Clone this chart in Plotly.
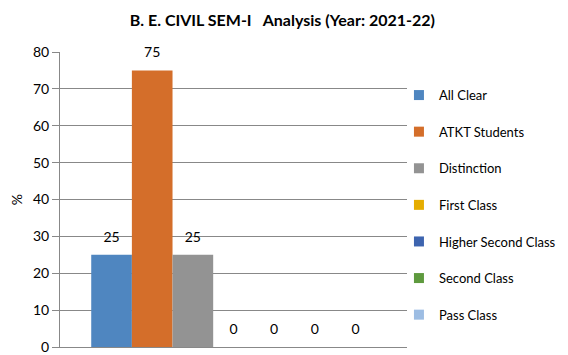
import plotly.graph_objects as go

category = ["SEM-I"]
series_names = ["All Clear", "ATKT Students", "Distinction", "First Class",
                "Higher Second Class", "Second Class", "Pass Class"]
series_values = [25, 75, 25, 0, 0, 0, 0]
series_colors = ["#4F86C0", "#D46E2A", "#939393", "#E5AD00",
                 "#3D64AF", "#5E9A3E", "#9DBDE3"]
y_ticks = [0, 10, 20, 30, 40, 50, 60, 70, 80]

FONT = "Lato, 'Open Sans', sans-serif"

fig = go.Figure()
for name, val, col in zip(series_names, series_values, series_colors):
    fig.add_trace(go.Bar(
        x=category, y=[val], name=name, marker_color=col,
        marker_line_width=0, showlegend=False, hoverinfo="skip",
        alignmentgroup="bars", offsetgroup=name,
    ))
# value labels, grouped like the bars
for name, val in zip(series_names, series_values):
    fig.add_trace(go.Scatter(
        x=category, y=[val], mode="markers+text", text=[str(val)],
        textposition="top center",
        textfont=dict(size=14, color="#000000", family=FONT),
        marker=dict(size=14, color="rgba(0,0,0,0)"),
        cliponaxis=False, showlegend=False, hoverinfo="skip",
        alignmentgroup="labels", offsetgroup=name,
    ))
# legend entries with small square swatches (separate x axis, not grouped)
for name, col in zip(series_names, series_colors):
    fig.add_trace(go.Scatter(
        x=[None], y=[None], mode="markers", name=name,
        marker=dict(symbol="square", size=10, color=col),
        legendgroup=name, xaxis="x2", hoverinfo="skip",
    ))

fig.update_layout(
    width=560, height=347,
    margin=dict(l=52, r=160, t=44, b=8),
    paper_bgcolor="white", plot_bgcolor="white",
    barmode="group", bargap=0.18, bargroupgap=0,
    scattermode="group", scattergap=0.18,
    font=dict(family=FONT, size=14, color="#000000"),
    title=dict(text="<b>B. E. CIVIL SEM-I   Analysis (Year: 2021-22)</b>",
               x=0.49, xref="container", y=0.965, yref="container",
               xanchor="center", yanchor="middle",
               font=dict(size=16, family=FONT)),
    showlegend=True,
    legend=dict(x=0.974, xanchor="left", y=0.481, yanchor="middle",
                bgcolor="rgba(0,0,0,0)",
                font=dict(size=13, family=FONT), tracegroupgap=16.7,
                itemwidth=30),
    xaxis2=dict(overlaying="x", visible=False, showgrid=False,
                zeroline=False),
)
fig.update_xaxes(showticklabels=False, showline=True, linecolor="#888888",
                 linewidth=1, showgrid=False, ticks="", automargin=False,
                 selector=dict(anchor="y"))
fig.update_layout(xaxis=dict(showticklabels=False, showline=True,
                             linecolor="#888888", linewidth=1,
                             showgrid=False, ticks="", automargin=False))
fig.update_yaxes(range=[0, 80], tickvals=y_ticks, showgrid=True,
                 gridcolor="#888888", gridwidth=1, showline=True,
                 linecolor="#888888", linewidth=1, ticks="outside",
                 ticklen=7, tickcolor="#888888", zeroline=False,
                 tickfont=dict(size=14), automargin=False,
                 title=dict(text="%", font=dict(size=14), standoff=8))

fig.write_html("out.html")
